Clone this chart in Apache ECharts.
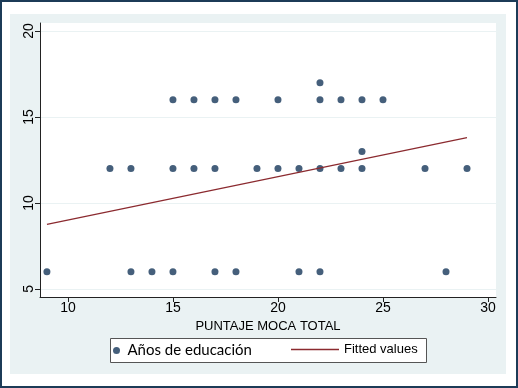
<!DOCTYPE html>
<html>
<head>
<meta charset="utf-8">
<script src="https://cdn.jsdelivr.net/npm/echarts@6/dist/echarts.min.js"></script>
<style>
  html, body { margin: 0; padding: 0; background: #fff; }
  #chart { width: 518px; height: 388px; }
</style>
</head>
<body>
<div id="chart"></div>
<script>
// PUNTAJE MOCA TOTAL vs Años de educación
const puntaje = [
    9, 13, 14, 15, 17, 18, 21, 22, 28,
    12, 13, 15, 16, 17, 19, 20, 21, 22, 23, 24, 27, 29,
    24,
    15, 16, 17, 18, 20, 22, 23, 24, 25,
    22
];
const educacion = [
    6, 6, 6, 6, 6, 6, 6, 6, 6,
    12, 12, 12, 12, 12, 12, 12, 12, 12, 12, 12, 12, 12,
    13,
    16, 16, 16, 16, 16, 16, 16, 16, 16,
    17
];
// fitted line end points
const fitX = [9, 29];
const fitY = [8.75, 13.8];

const xTicks = [10, 15, 20, 25, 30];
const yTicks = [5, 10, 15, 20];

const chart = echarts.init(document.getElementById('chart'));

const font = '"Liberation Sans", Arial, sans-serif';
const dotColor = '#17375a';
const fitColor = '#8b2a2f';

chart.setOption({
    animation: false,
    backgroundColor: '#fff',
    graphic: [
        {
            type: 'rect', z: -10, silent: true,
            shape: { x: 1, y: 1, width: 516, height: 386 },
            style: { fill: '#fff', stroke: '#1c3b57', lineWidth: 2 }
        },
        {
            type: 'rect', z: -9, silent: true,
            shape: { x: 10, y: 14, width: 496, height: 360 },
            style: { fill: '#eaf2f3' }
        },
        {
            type: 'rect', z: -8, silent: true,
            shape: { x: 110.5, y: 338.5, width: 316, height: 24 },
            style: { fill: '#fff', stroke: '#555', lineWidth: 1 }
        }
    ],
    grid: {
        left: 40, right: 22, top: 23, bottom: 91,
        show: true, backgroundColor: '#fff', borderWidth: 0
    },
    xAxis: {
        type: 'value',
        min: 8.67, max: 30.38,
        name: 'PUNTAJE MOCA TOTAL',
        nameLocation: 'middle',
        nameGap: 20,
        nameTextStyle: { fontFamily: font, fontSize: 13, color: '#000' },
        axisLine: { onZero: false, lineStyle: { color: '#222', width: 1 } },
        axisTick: { customValues: xTicks, length: 5, lineStyle: { color: '#222' } },
        axisLabel: { customValues: xTicks, fontFamily: font, fontSize: 14, color: '#000', margin: 4 },
        splitLine: { show: false }
    },
    yAxis: {
        type: 'value',
        min: 4.53, max: 20.47,
        axisLine: { show: true, onZero: false, lineStyle: { color: '#222', width: 1 } },
        axisTick: { show: true, customValues: yTicks, length: 5, lineStyle: { color: '#222' } },
        axisLabel: { customValues: yTicks, rotate: 90, fontFamily: font, fontSize: 14, color: '#000', margin: 4 },
        splitLine: { show: true, lineStyle: { color: '#eaf2f3', width: 1 } }
    },
    legend: [
        {
            data: ['Años de educación'],
            left: 113, top: 343,
            padding: 0,
            icon: 'circle',
            itemWidth: 12, itemHeight: 7,
            textStyle: { fontFamily: 'Lato, "Open Sans", sans-serif', fontSize: 15, color: '#000' }
        },
        {
            data: [{ name: 'Fitted values', icon: 'rect', itemStyle: { color: fitColor } }],
            left: 291, top: 343,
            padding: 0,
            itemWidth: 48, itemHeight: 1.3,
            textStyle: { fontFamily: font, fontSize: 13, color: '#000' }
        }
    ],
    series: [
        {
            name: 'Años de educación',
            type: 'scatter',
            symbol: 'circle',
            symbolSize: 7,
            itemStyle: { color: dotColor },
            data: puntaje.map((x, i) => [x, educacion[i]])
        },
        {
            name: 'Fitted values',
            type: 'line',
            symbol: 'none',
            showSymbol: false,
            lineStyle: { color: fitColor, width: 1.2 },
            itemStyle: { color: fitColor },
            data: fitX.map((x, i) => [x, fitY[i]])
        }
    ]
});
</script>
</body>
</html>
